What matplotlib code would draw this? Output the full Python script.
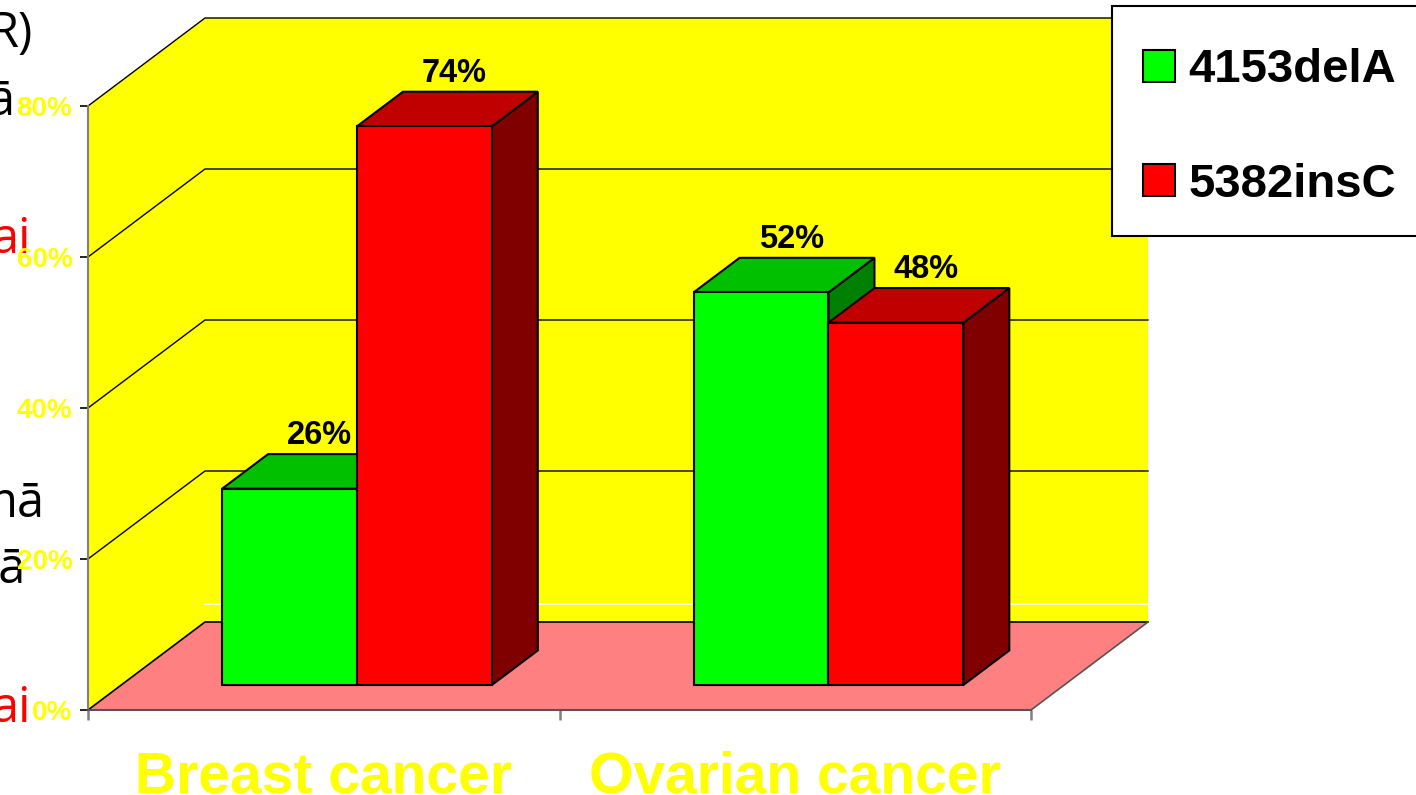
import matplotlib
matplotlib.use('Agg')
import matplotlib.pyplot as plt
from matplotlib.patches import Polygon, Patch, Rectangle

# ---------------- data ----------------
categories = ['Breast cancer', 'Ovarian cancer']
series_names = ['4153delA', '5382insC']
values_4153delA = [26, 52]
values_5382insC = [74, 48]
value_labels_4153delA = ['26%', '52%']
value_labels_5382insC = ['74%', '48%']
yticks = [0, 20, 40, 60, 80]
ytick_labels = ['0%', '20%', '40%', '60%', '80%']

# ---------------- style ----------------
face_colors = ['#00FF00', '#FF0000']
top_colors = ['#00C000', '#C00000']
side_colors = ['#008000', '#800000']
WALL = '#FFFF00'
FLOOR = '#FF8080'
YELLOW = '#FFFF00'

plt.rcParams['font.family'] = ['Liberation Sans', 'DejaVu Sans']

W, H = 1416, 795
fig = plt.figure(figsize=(W / 100, H / 100), dpi=100)
fig.patch.set_facecolor('white')

# front plane of the 3D box (pixels)
L, B, AW, AH = 88, 85, 943, 604
ax = fig.add_axes([L / W, B / H, AW / W, AH / H])
ax.set_xlim(-0.5, 1.5)
ax.set_ylim(0, 80)
ax.patch.set_visible(False)

px_x = AW / 2.0     # pixels per category unit
px_y = AH / 80.0    # pixels per percent
DX = 117 / px_x     # full depth offset in data units
DY = 88 / px_y

x0, x1 = -0.5, 1.5
ymax = 80

# walls and floor
back = Polygon([(x0 + DX, DY), (x1 + DX, DY), (x1 + DX, ymax + DY), (x0 + DX, ymax + DY)],
               closed=True, facecolor=WALL, edgecolor='none', zorder=0.5, clip_on=False)
side = Polygon([(x0, 0), (x0 + DX, DY), (x0 + DX, ymax + DY), (x0, ymax)],
               closed=True, facecolor=WALL, edgecolor='none', zorder=0.5, clip_on=False)
floor = Polygon([(x0, 0), (x1, 0), (x1 + DX, DY), (x0 + DX, DY)],
                closed=True, facecolor=FLOOR, edgecolor='none', zorder=0.6, clip_on=False)
for p in (back, side, floor):
    ax.add_patch(p)

# floor edges
ax.plot([x0, x0 + DX, x1 + DX], [0, DY, DY], color='black', lw=1.2, zorder=0.8, clip_on=False)
ax.plot([x1, x1 + DX], [0, DY], color='#555555', lw=1.2, zorder=0.8, clip_on=False)

# gridlines on walls
for t in yticks[1:]:
    ax.plot([x0, x0 + DX, x1 + DX], [t, t + DY, t + DY], color='black', lw=1.0,
            zorder=0.8, clip_on=False)
# faint white line on back wall near the floor
ax.plot([x0 + DX, x1 + DX], [DY + 2.4, DY + 2.4], color='white', lw=1.2, zorder=0.7, clip_on=False)

# bars
bar_w = 0.286
d0, d1 = 0.284, 0.677
series = [values_4153delA, values_5382insC]
series_labels = [value_labels_4153delA, value_labels_5382insC]
z = 3
for ci in range(len(categories)):
    for si, vals in enumerate(series):
        xl = ci - bar_w + si * bar_w
        xr = xl + bar_w
        v = vals[ci]
        ox0, oy0 = d0 * DX, d0 * DY
        ox1, oy1 = d1 * DX, d1 * DY
        front = [(xl + ox0, oy0), (xr + ox0, oy0), (xr + ox0, v + oy0), (xl + ox0, v + oy0)]
        top = [(xl + ox0, v + oy0), (xr + ox0, v + oy0), (xr + ox1, v + oy1), (xl + ox1, v + oy1)]
        rside = [(xr + ox0, oy0), (xr + ox1, oy1), (xr + ox1, v + oy1), (xr + ox0, v + oy0)]
        for poly, col in ((rside, side_colors[si]), (top, top_colors[si]), (front, face_colors[si])):
            ax.add_patch(Polygon(poly, closed=True, facecolor=col, edgecolor='black',
                                 lw=1.5, joinstyle='miter', zorder=z, clip_on=False))
        z += 1
        ax.text(xl + bar_w / 2 + (d0 + d1) / 2 * DX + 0.015, v + d1 * DY + 1.35,
                series_labels[si][ci], ha='center', va='baseline', fontsize=23.5,
                fontweight='bold', color='black', zorder=20, clip_on=False)

# category labels
for ci, cat in enumerate(categories):
    ax.text(ci, -10.9, cat, ha='center', va='baseline', fontsize=41, fontweight='bold',
            color=YELLOW, zorder=20, clip_on=False)

# axes, ticks
for s in ('top', 'right'):
    ax.spines[s].set_visible(False)
ax.spines['left'].set_color('#808080')
ax.spines['left'].set_linewidth(1.5)
ax.spines['bottom'].set_color('#555555')
ax.spines['bottom'].set_linewidth(1.5)
ax.set_yticks(yticks, ytick_labels)
ax.tick_params(axis='y', direction='out', length=5.8, width=1.2, color='black', pad=5.5,
               labelsize=20, labelcolor=YELLOW)
for lbl in ax.get_yticklabels():
    lbl.set_fontweight('bold')
ax.set_xticks([-0.5, 0.5, 1.5])
ax.set_xticklabels([])
ax.tick_params(axis='x', direction='out', length=7.5, width=1.8, color='#808080')

# legend (frame drawn separately so that it runs off the right edge like the reference)
fig.patches.append(Rectangle((1112 / W, 1 - 236 / H), 320 / W, 230 / H,
                             transform=fig.transFigure, facecolor='white',
                             edgecolor='black', linewidth=1.5, zorder=5))
handles = [Patch(facecolor=c, edgecolor='black', linewidth=1.5) for c in face_colors]
leg = fig.legend(handles, series_names, loc='upper left',
                 bbox_to_anchor=(1109 / W, 1 - 14 / H), bbox_transform=fig.transFigure,
                 borderaxespad=0, prop={'family': 'Liberation Sans', 'weight': 'bold', 'size': 34},
                 handlelength=0.66, handleheight=0.66, handletextpad=0.29,
                 labelspacing=1.49, borderpad=0.73, frameon=False)
leg.set_zorder(6)

# fragments of slide text behind the chart
fragments = [('R)', 33, 47, 'black'), ('ā', 15, 115, 'black'), ('ai', 31, 253, '#FF0000'),
             ('mā', 45, 517, 'black'), ('tā', 26, 583, 'black'), ('ai', 31, 722, '#FF0000')]
for s, xr_, yb, c in fragments:
    fig.text(xr_ / W, 1 - yb / H, s, ha='right', va='baseline', fontsize=35,
             family=['Open Sans', 'DejaVu Sans'], fontweight='normal', color=c, zorder=-1)

fig.savefig('out.png', dpi=100)
